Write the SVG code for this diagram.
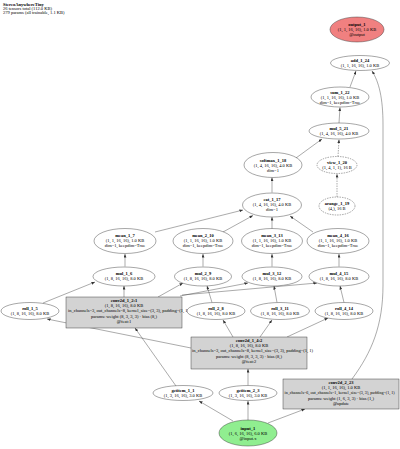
<svg xmlns="http://www.w3.org/2000/svg" width="400" height="449" viewBox="0 0 400 449">
<defs>
<marker id="ah" markerUnits="userSpaceOnUse" markerWidth="4" markerHeight="3" refX="3.6" refY="1.4" orient="auto"><path d="M0,0 L3.6,1.4 L0,2.8 z" fill="#333"/></marker>
</defs>
<style>
text{font-family:"Liberation Serif","Times New Roman",serif;font-size:4.5px;fill:#000;text-anchor:middle}
.t{font-weight:bold}
.title text{text-anchor:start}
ellipse{fill:#fff;stroke:#222;stroke-width:0.4}
.dash{stroke-dasharray:1.5,1}
.box{fill:#d3d3d3;stroke:#222;stroke-width:0.4}
.lt{text-anchor:start}
.sm{font-size:4.1px}
#edges path{fill:none;stroke:#444;stroke-width:0.45;marker-end:url(#ah)}
#edges .d{stroke-dasharray:1.5,1}
</style>
<rect width="400" height="449" style="fill:#fff;stroke:none"/>
<g class="title">
<text x="3" y="5.5" class="t">StereoAnywhereTiny</text>
<text x="3" y="9.5">26 tensors total (112.0 KB)</text>
<text x="3" y="13.5">279 params (all trainable, 1.1 KB)</text>
</g>
<g id="edges">
<path d="M233,421 L199,401"/>
<path d="M248,420 L248,401"/>
<path d="M268,423 L305,409"/>
<path d="M176,386 L135,328"/>
<path d="M248,385.5 L248,369"/>
<path d="M191,348 L47,319"/>
<path d="M233,337 L223,320"/>
<path d="M260,337 L272,320"/>
<path d="M287,337 L328,318"/>
<path d="M124,297 L124,286"/>
<path d="M43,303 L95,282"/>
<path d="M158,297 L183,283"/>
<path d="M212,302.5 L207,286"/>
<path d="M180,296 L248,283"/>
<path d="M277,302.5 L274,286"/>
<path d="M182,295 L317,283"/>
<path d="M344,302.5 L340,286"/>
<path d="M125,266.5 L125,254"/>
<path d="M203,266.5 L203,254"/>
<path d="M272,266.5 L272,254"/>
<path d="M339,266.5 L339,254"/>
<path d="M155,232 L243,210"/>
<path d="M223,232 L253,215.5"/>
<path d="M272,229 L272,217"/>
<path d="M313,232 L290,216"/>
<path d="M272,192.5 L272,177.5"/>
<path d="M296,158 L322,139"/>
<path class="d" d="M337,197 L337,174"/>
<path class="d" d="M338,156.5 L339,139.5"/>
<path d="M339,123 L340,107.5"/>
<path d="M350,87 L356,71"/>
<path d="M352,379 C372,352 383,325 383,285 L383,125 C383,98 379,82 372,71"/>
</g>
<g id="output_1"><ellipse cx="357" cy="29.5" rx="27" ry="12.5" style="fill:#f08080"/><text x="357" y="25.8" class="t">output_1</text><text x="357" y="30.8">(1, 1, 16, 16), 1.0 KB</text><text x="357" y="35.8">@output</text></g>
<g id="add_1_24"><ellipse cx="360" cy="63" rx="29.5" ry="7.5"/><text x="360" y="62" class="t">add_1_24</text><text x="360" y="67">(1, 1, 16, 16), 1.0 KB</text></g>
<g id="sum_1_22"><ellipse cx="340" cy="97" rx="29" ry="10"/><text x="340" y="93.5" class="t">sum_1_22</text><text x="340" y="98.5">(1, 1, 16, 16), 1.0 KB</text><text x="340" y="103.5">dim=1, keepdim=True</text></g>
<g id="mul_5_21"><ellipse cx="339" cy="131" rx="30" ry="8"/><text x="339" y="129.5" class="t">mul_5_21</text><text x="339" y="134.5">(1, 4, 16, 16), 4.0 KB</text></g>
<g id="softmax_1_18"><ellipse cx="273" cy="165" rx="29" ry="12.5"/><text x="273" y="161.5" class="t">softmax_1_18</text><text x="273" y="166.5">(1, 4, 16, 16), 4.0 KB</text><text x="273" y="171.5">dim=1</text></g>
<g id="view_1_20"><ellipse class="dash" cx="337" cy="165" rx="20" ry="8.5"/><text x="337" y="164" class="t">view_1_20</text><text x="337" y="169">(1, 4, 1, 1), 16 B</text></g>
<g id="arange_1_19"><ellipse class="dash" cx="337" cy="206" rx="18" ry="9"/><text x="337" y="205" class="t">arange_1_19</text><text x="337" y="210">(4,), 16 B</text></g>
<g id="cat_1_17"><ellipse cx="272" cy="205" rx="29.5" ry="12"/><text x="272" y="200.5" class="t">cat_1_17</text><text x="272" y="205.5">(1, 4, 16, 16), 4.0 KB</text><text x="272" y="210.5">dim=1</text></g>
<g id="mean_1_7"><ellipse cx="125" cy="241" rx="31" ry="12.5"/><text x="125" y="237" class="t">mean_1_7</text><text x="125" y="242">(1, 1, 16, 16), 1.0 KB</text><text x="125" y="247">dim=1, keepdim=True</text></g>
<g id="mean_2_10"><ellipse cx="203" cy="241" rx="30" ry="12.5"/><text x="203" y="237" class="t">mean_2_10</text><text x="203" y="242">(1, 1, 16, 16), 1.0 KB</text><text x="203" y="247">dim=1, keepdim=True</text></g>
<g id="mean_3_13"><ellipse cx="272" cy="241" rx="30.5" ry="12.5"/><text x="272" y="237" class="t">mean_3_13</text><text x="272" y="242">(1, 1, 16, 16), 1.0 KB</text><text x="272" y="247">dim=1, keepdim=True</text></g>
<g id="mean_4_16"><ellipse cx="338" cy="241" rx="31" ry="12.5"/><text x="338" y="237" class="t">mean_4_16</text><text x="338" y="242">(1, 1, 16, 16), 1.0 KB</text><text x="338" y="247">dim=1, keepdim=True</text></g>
<g id="mul_1_6"><ellipse cx="124" cy="276.5" rx="31" ry="9.5"/><text x="124" y="275" class="t">mul_1_6</text><text x="124" y="280">(1, 8, 16, 16), 8.0 KB</text></g>
<g id="mul_2_9"><ellipse cx="203" cy="276.5" rx="28.5" ry="9.5"/><text x="203" y="275" class="t">mul_2_9</text><text x="203" y="280">(1, 8, 16, 16), 8.0 KB</text></g>
<g id="mul_3_12"><ellipse cx="272" cy="276.5" rx="30" ry="9.5"/><text x="272" y="275" class="t">mul_3_12</text><text x="272" y="280">(1, 8, 16, 16), 8.0 KB</text></g>
<g id="mul_4_15"><ellipse cx="339" cy="276.5" rx="30" ry="9.5"/><text x="339" y="275" class="t">mul_4_15</text><text x="339" y="280">(1, 8, 16, 16), 8.0 KB</text></g>
<g id="conv2d_1_2_1"><rect class="box" x="66" y="297" width="116" height="31"/><text x="124" y="301.5" class="t">conv2d_1_2:1</text><text x="124" y="306.9">(1, 8, 16, 16), 8.0 KB</text><text x="68" y="312.3" class="lt">in_channels=3, out_channels=8, kernel_size=(3, 3), padding=(1, 1)</text><text x="124" y="317.7">params: weight (8, 3, 3, 3) · bias (8,)</text><text x="124" y="323.1">@feat:1</text></g>
<g id="roll_1_5"><ellipse cx="30" cy="311" rx="29" ry="8.5"/><text x="30" y="310" class="t">roll_1_5</text><text x="30" y="315">(1, 8, 16, 16), 8.0 KB</text></g>
<g id="roll_2_8"><ellipse cx="216" cy="311" rx="29" ry="8.5"/><text x="216" y="310" class="t">roll_2_8</text><text x="216" y="315">(1, 8, 16, 16), 8.0 KB</text></g>
<g id="roll_3_11"><ellipse cx="280" cy="311" rx="29.5" ry="8.5"/><text x="280" y="310" class="t">roll_3_11</text><text x="280" y="315">(1, 8, 16, 16), 8.0 KB</text></g>
<g id="roll_4_14"><ellipse cx="344" cy="311" rx="29" ry="8.5"/><text x="344" y="310" class="t">roll_4_14</text><text x="344" y="315">(1, 8, 16, 16), 8.0 KB</text></g>
<g id="conv2d_1_4_2"><rect class="box" x="191" y="337" width="116" height="32"/><text x="249" y="341.5" class="t">conv2d_1_4:2</text><text x="249" y="346.9">(1, 8, 16, 16), 8.0 KB</text><text x="192" y="352.3" class="lt">in_channels=3, out_channels=8, kernel_size=(3, 3), padding=(1, 1)</text><text x="249" y="357.7">params: weight (8, 3, 3, 3) · bias (8,)</text><text x="249" y="363.1">@feat:2</text></g>
<g id="conv2d_2_23"><rect class="box" x="283" y="379" width="116" height="30"/><text x="341" y="383.5" class="t">conv2d_2_23</text><text x="341" y="388.9">(1, 1, 16, 16), 1.0 KB</text><text x="284.5" y="394.3" class="lt sm">in_channels=6, out_channels=1, kernel_size=(3, 3), padding=(1, 1)</text><text x="341" y="399.7">params: weight (1, 6, 3, 3) · bias (1,)</text><text x="341" y="405.1">@update</text></g>
<g id="getitem_1_1"><ellipse cx="183" cy="393" rx="30" ry="7.5"/><text x="183" y="392" class="t">getitem_1_1</text><text x="183" y="397">(1, 3, 16, 16), 3.0 KB</text></g>
<g id="getitem_2_3"><ellipse cx="248" cy="393" rx="29" ry="7.5"/><text x="248" y="392" class="t">getitem_2_3</text><text x="248" y="397">(1, 3, 16, 16), 3.0 KB</text></g>
<g id="input_1"><ellipse cx="248" cy="433" rx="29" ry="13" style="fill:#90ee90"/><text x="248" y="429.5" class="t">input_1</text><text x="248" y="434.5">(1, 6, 16, 16), 6.0 KB</text><text x="248" y="439.5">@input.x</text></g>
</svg>
